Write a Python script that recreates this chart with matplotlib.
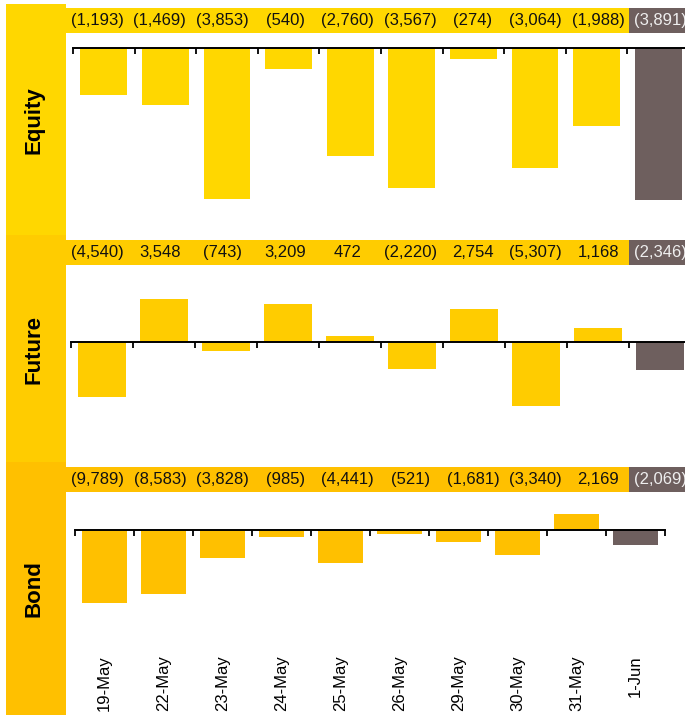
import numpy as np
import matplotlib
matplotlib.use('Agg')
import matplotlib.pyplot as plt
from matplotlib.patches import Rectangle

plt.rcParams['font.family'] = ['Liberation Sans', 'DejaVu Sans']

# data
dates = ['19-May', '22-May', '23-May', '24-May', '25-May',
         '26-May', '29-May', '30-May', '31-May', '1-Jun']
equity = [-1193, -1469, -3853, -540, -2760, -3567, -274, -3064, -1988, -3891]
future = [-4540, 3548, -743, 3209, 472, -2220, 2754, -5307, 1168, -2346]
bond = [-9789, -8583, -3828, -985, -4441, -521, -1681, -3340, 2169, -2069]

W, H = 685, 715
GREY = '#6e5f5e'


def fmt(v):
    s = '{:,}'.format(abs(v))
    return '(' + s + ')' if v < 0 else s


def px_axes(fig, left, top, right, bottom):
    return fig.add_axes([left / W, 1 - bottom / H, (right - left) / W, (bottom - top) / H])


fig = plt.figure(figsize=(W / 100, H / 100), dpi=100)

panels = [
    # name, values, colour, band (top, bottom), strip (top, bottom), axes box, ylim
    ('Equity', equity, '#ffd700', (4, 237), (8, 33), (73, 40, 689, 236), (-4800, 200)),
    ('Future', future, '#ffcc00', (235, 463), (240, 265), (71, 270, 691, 455), (-9400, 6000)),
    ('Bond', bond, '#ffc000', (462, 715), (467, 492), (75, 500, 665, 650), (-16200, 4050)),
]

for name, vals, col, band, strip, box, ylim in panels:
    # left label band
    fig.add_artist(Rectangle((6 / W, 1 - band[1] / H), 60 / W, (band[1] - band[0]) / H,
                             transform=fig.transFigure, color=col, lw=0, zorder=0))
    fig.text(34 / W, 1 - (band[0] + band[1]) / 2 / H, name, rotation=90,
             ha='center', va='center', fontsize=16, fontweight='bold')

    colors = [col] * (len(vals) - 1) + [GREY]

    # value strip
    sax = px_axes(fig, 66, strip[0], 692, strip[1])
    sax.bar(np.arange(len(vals)), 1, width=1, align='edge', color=colors, lw=0)
    for i, v in enumerate(vals):
        tc = '#eeeeee' if i == len(vals) - 1 else '#111111'
        sax.text(i + 0.5, 0.5, fmt(v), ha='center', va='center', fontsize=12, color=tc)
    sax.set_xlim(0, len(vals))
    sax.set_ylim(0, 1)
    sax.axis('off')

    # bars
    ax = px_axes(fig, *box)
    x = np.arange(len(vals))
    ax.bar(x, vals, width=0.76, color=colors, lw=0)
    ax.set_xlim(-0.5, len(vals) - 0.5)
    ax.set_ylim(*ylim)
    for s in ['top', 'right', 'left']:
        ax.spines[s].set_visible(False)
    ax.spines['bottom'].set_position(('data', 0))
    ax.spines['bottom'].set_linewidth(1.4)
    ax.set_xticks(np.arange(-0.5, len(vals), 1))
    ax.set_xticklabels([])
    ax.tick_params(axis='x', direction='out', length=4.5, width=1.3)
    ax.set_yticks([])

    if name == 'Bond':
        sec = ax.secondary_xaxis('bottom')
        sec.spines['bottom'].set_visible(False)
        sec.set_xticks(x)
        sec.set_xticklabels(dates, rotation=90, fontsize=12)
        sec.tick_params(length=0, pad=4)

fig.savefig('out.png', dpi=100)
